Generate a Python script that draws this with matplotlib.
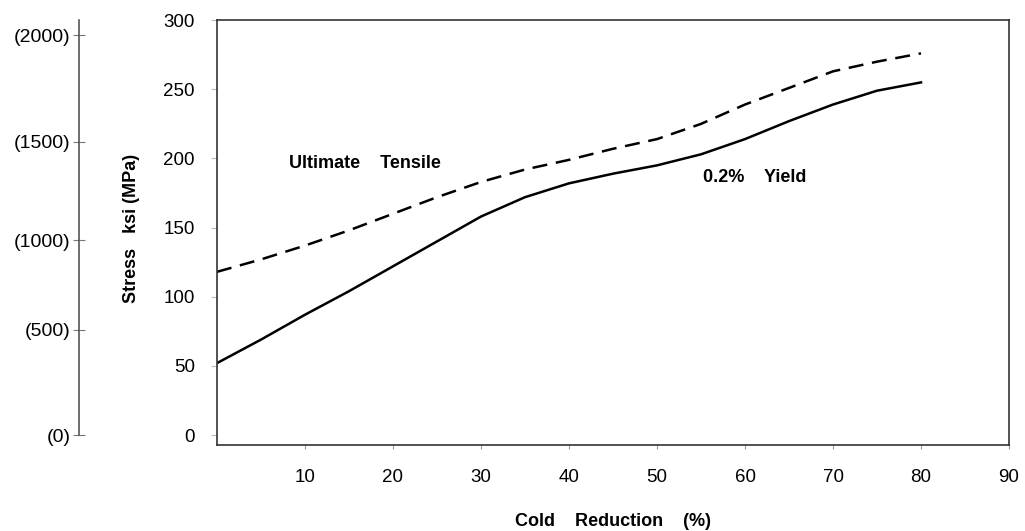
import numpy as np
import matplotlib
matplotlib.use('Agg')
import matplotlib.pyplot as plt

plt.rcParams['font.family'] = ['Liberation Sans', 'DejaVu Sans']

# 冷加工率 (%) 与 强度 (ksi)
cold_reduction = [0, 5, 10, 15, 20, 25, 30, 35, 40, 45, 50, 55, 60, 65, 70, 75, 80]
ultimate_tensile = [118, 127, 137, 148, 160, 172, 183, 192, 199, 207, 214, 225, 239, 251, 263, 270, 276]
yield_02 = [52, 69, 87, 104, 122, 140, 158, 172, 182, 189, 195, 203, 214, 227, 239, 249, 255]

x_ticks = [10, 20, 30, 40, 50, 60, 70, 80, 90]
y_ticks = [0, 50, 100, 150, 200, 250, 300]
mpa_labels = ['(0)', '(500)', '(1000)', '(1500)', '(2000)']
mpa_pos_ksi = [0, 76, 141, 212, 289]   # 原图上 MPa 刻度对应的 ksi 位置

fig = plt.figure(figsize=(10.25, 5.31), dpi=100)
ax = fig.add_axes([0.2117, 0.162, 0.7727, 0.800])

ax.plot(cold_reduction, ultimate_tensile, color='black', lw=1.8,
        linestyle=(0, (6, 3.5)))
ax.plot(cold_reduction, yield_02, color='black', lw=1.8)

ax.set_xlim(0, 90)
ax.set_ylim(-7.2, 300)
ax.set_xticks(x_ticks)
ax.set_yticks(y_ticks)
ax.tick_params(axis='x', length=3, color='#999999', pad=14, labelsize=13.5)
ax.tick_params(axis='y', length=4, color='#bbbbbb', pad=12, labelsize=13.5)
for s in ax.spines.values():
    s.set_color('#333333')
    s.set_linewidth(1.2)

ax.text(8.2, 196.7, 'Ultimate    Tensile', fontsize=13, fontweight='bold',
        va='center', ha='left')
ax.text(55.2, 186.5, '0.2%    Yield', fontsize=13, fontweight='bold',
        va='center', ha='left')

ax.set_xlabel('Cold    Reduction    (%)', fontsize=13, fontweight='bold', labelpad=20)
ax.set_ylabel('Stress   ksi (MPa)', fontsize=13, fontweight='bold')
ax.yaxis.set_label_coords(-0.097, 0.51)

# MPa 副坐标轴
ax2 = ax.twinx()
ax2.set_ylim(ax.get_ylim())
for k in ['top', 'right', 'bottom']:
    ax2.spines[k].set_visible(False)
ax2.spines['left'].set_position(('axes', -0.174))
ax2.spines['left'].set_bounds(0, 300)
ax2.spines['left'].set_color('#555555')
ax2.spines['left'].set_linewidth(1.2)
ax2.yaxis.set_ticks_position('left')
ax2.yaxis.set_label_position('left')
ax2.set_yticks(mpa_pos_ksi)
ax2.set_yticklabels(mpa_labels)
ax2.tick_params(axis='y', direction='inout', length=8, color='#777777',
                pad=2, labelsize=14)

fig.savefig('out.png', dpi=100)
